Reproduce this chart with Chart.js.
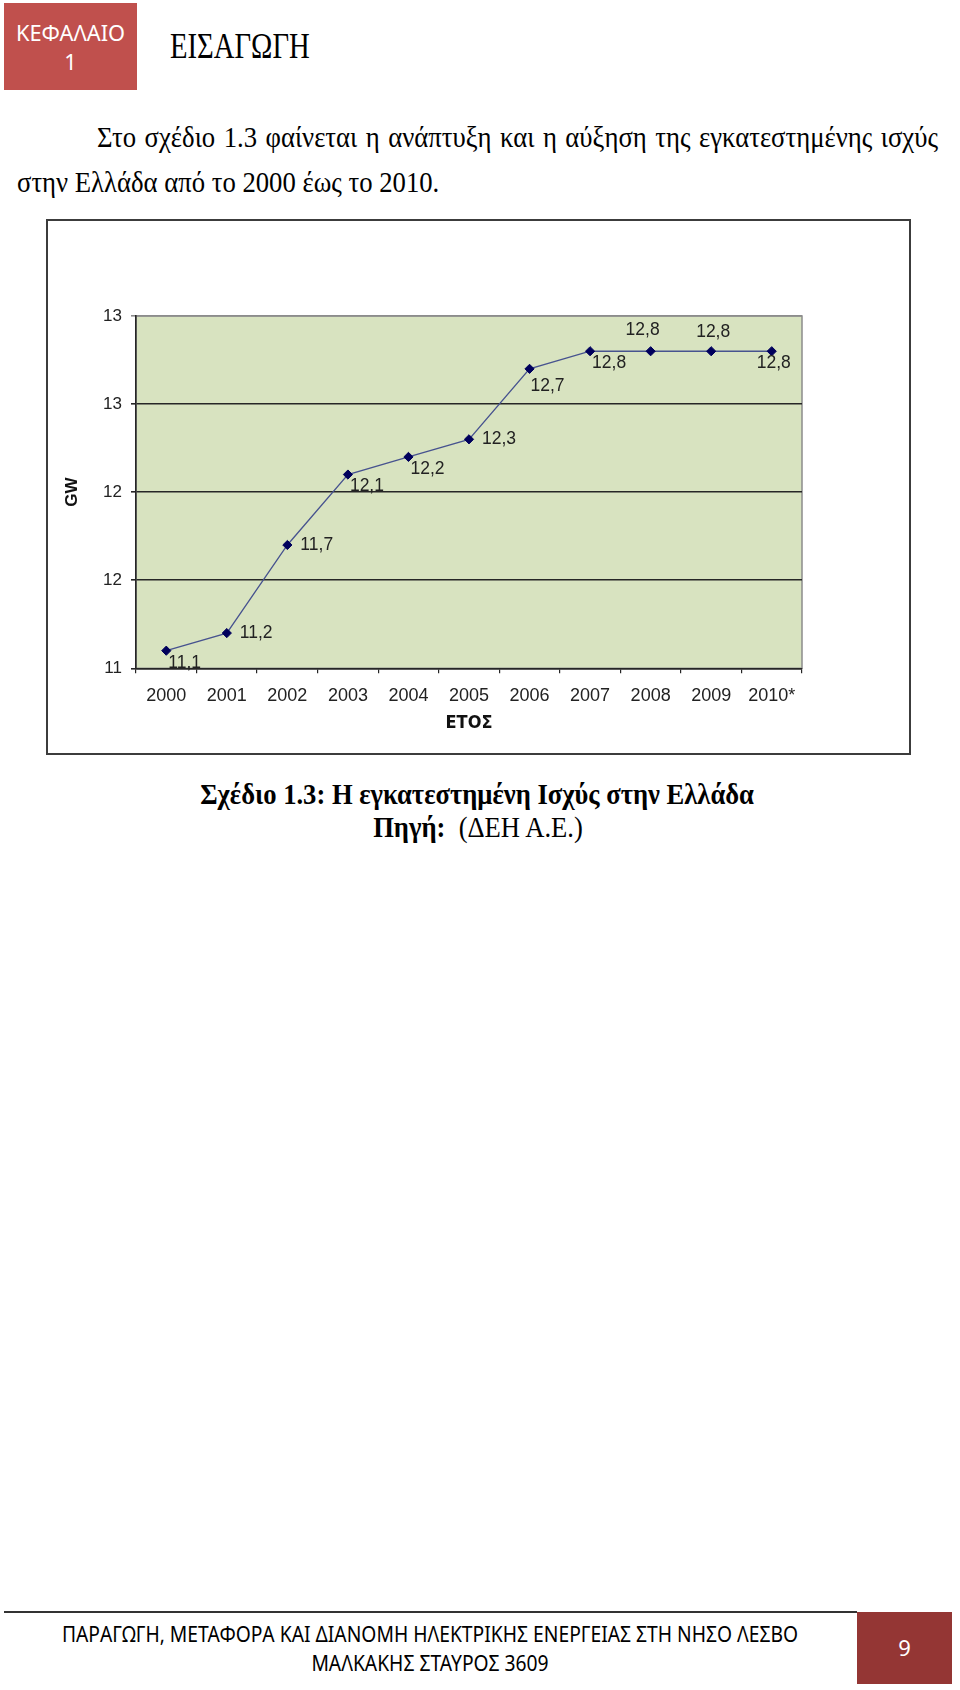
<!DOCTYPE html>
<html lang="el">
<head>
<meta charset="utf-8">
<title>Σχέδιο 1.3: Η εγκατεστημένη Ισχύς στην Ελλάδα</title>
<script src="https://cdn.jsdelivr.net/npm/chart.js@4.4.1/dist/chart.umd.min.js"></script>
<style>
  html, body { margin: 0; padding: 0; background: #fff; }
  #page { position: relative; width: 960px; height: 1690px; overflow: hidden; }
  .txt { position: absolute; white-space: nowrap; line-height: 1; transform-origin: 0 50%; color: #000; }
  .serif { font-family: "Liberation Serif", "Times New Roman", serif; }
  .sans { font-family: "Noto Sans", "Open Sans", sans-serif; }
  .box { position: absolute; }
  #chartBox { position: absolute; left: 46px; top: 219px; width: 861px; height: 532px; border: 2px solid #3c3c3c; }
</style>
</head>
<body>
<div id="page">
  <div class="box" style="left:4px; top:3px; width:133px; height:87px; background:#c0504d;"></div>
  <div class="txt sans" style="left:4px; width:133px; text-align:center; top:21.5px; font-size:21.8px; color:#fff; transform:scaleY(1.03);">ΚΕΦΑΛΑΙΟ</div>
  <div class="txt sans" style="left:4px; width:133px; text-align:center; top:51px; font-size:21.8px; color:#fff; transform:scaleY(1.03);">1</div>
  <div class="txt serif" style="left:170px; top:32.4px; font-size:28.7px; transform:scaleY(1.23);">ΕΙΣΑΓΩΓΗ</div>

  <div class="txt serif" style="left:97px; width:841px; top:124px; font-size:26.7px; text-align:justify; text-align-last:justify; transform:scaleY(1.11);">Στο σχέδιο 1.3 φαίνεται η ανάπτυξη και η αύξηση της εγκατεστημένης ισχύς</div>
  <div class="txt serif" style="left:17px; top:169px; font-size:26.7px; transform:scaleY(1.11);">στην Ελλάδα από το 2000 έως το 2010.</div>

  <div id="chartBox"><canvas id="capacityChart"></canvas></div>

  <div class="txt serif" style="left:0; width:954px; text-align:center; top:780.5px; font-size:26.6px; font-weight:bold; transform:scaleY(1.1);">Σχέδιο 1.3: Η εγκατεστημένη Ισχύς στην Ελλάδα</div>
  <div class="txt serif" style="left:0; width:956px; text-align:center; top:814px; font-size:26.6px; transform:scaleY(1.1);"><b>Πηγή:</b>&nbsp; (ΔΕΗ Α.Ε.)</div>

  <div class="box" style="left:4px; top:1611px; width:853px; height:1.5px; background:#333;"></div>
  <div class="txt sans" style="left:4px; width:852px; text-align:center; top:1624px; font-size:19.3px; transform:scaleY(1.12);">ΠΑΡΑΓΩΓΗ, ΜΕΤΑΦΟΡΑ ΚΑΙ ΔΙΑΝΟΜΗ ΗΛΕΚΤΡΙΚΗΣ ΕΝΕΡΓΕΙΑΣ ΣΤΗ ΝΗΣΟ ΛΕΣΒΟ</div>
  <div class="txt sans" style="left:4px; width:852px; text-align:center; top:1652.5px; font-size:19.3px; transform:scaleY(1.12);">ΜΑΛΚΑΚΗΣ ΣΤΑΥΡΟΣ 3609</div>
  <div class="box" style="left:857px; top:1612px; width:95px; height:72px; background:#943634;"></div>
  <div class="txt sans" style="left:857px; width:95px; text-align:center; top:1636px; font-size:22px; color:#fff;">9</div>
</div>

<script>
// installed capacity in Greece, GW (source: ΔΕΗ Α.Ε.)
const years = ['2000', '2001', '2002', '2003', '2004', '2005', '2006', '2007', '2008', '2009', '2010*'];
const capacityGW = [11.1, 11.2, 11.7, 12.1, 12.2, 12.3, 12.7, 12.8, 12.8, 12.8, 12.8];

// y axis: Excel shows half steps rounded to whole numbers
const yTickValues = [11, 11.5, 12, 12.5, 13];
const yTickLabels = ['11', '12', '12', '13', '13'];

// where each value label sits next to its point
const labelSides = ['belowRight', 'right', 'right', 'belowRight', 'belowRight', 'right',
                    'lowRight', 'belowRight', 'aboveLeft', 'above', 'below'];

const sansFont = '"Liberation Sans", Arial, sans-serif';
const darkLine = '#262626';
const plotEdge = '#8c8c8c';

const plotBackground = {
  id: 'plotBackground',
  beforeDraw(chart) {
    const { ctx, chartArea: a } = chart;
    ctx.save();
    ctx.fillStyle = '#d8e3c0';
    ctx.fillRect(a.left, a.top, a.width, a.height);
    ctx.strokeStyle = plotEdge;
    ctx.lineWidth = 1.5;
    ctx.strokeRect(a.left, a.top, a.width, a.height);
    ctx.restore();
  }
};

const pointLabels = {
  id: 'pointLabels',
  afterDatasetsDraw(chart) {
    const { ctx } = chart;
    const points = chart.getDatasetMeta(0).data;
    ctx.save();
    ctx.font = '17.5px ' + sansFont;
    ctx.fillStyle = '#222';
    ctx.textBaseline = 'middle';
    points.forEach((pt, i) => {
      const text = capacityGW[i].toFixed(1).replace('.', ',');
      let dx = 13, dy = 0, align = 'left';
      switch (labelSides[i]) {
        case 'belowRight': dx = 2; dy = 12; break;
        case 'lowRight': dx = 1; dy = 17; break;
        case 'aboveLeft': dx = -8; dy = -21; align = 'center'; break;
        case 'above': dx = 2; dy = -19; align = 'center'; break;
        case 'below': dx = 2; dy = 12; align = 'center'; break;
      }
      ctx.textAlign = align;
      ctx.fillText(text, pt.x + dx, pt.y + dy);
    });
    ctx.restore();
  }
};

function drawChart() {
  const ctx = document.getElementById('capacityChart').getContext('2d');
  new Chart(ctx, {
    type: 'line',
    data: {
      labels: years,
      datasets: [{
        label: 'GW',
        data: capacityGW,
        borderColor: '#47538f',
        borderWidth: 1.3,
        tension: 0,
        pointStyle: 'rectRot',
        pointRadius: 4.6,
        pointBorderWidth: 1,
        pointBackgroundColor: '#00005c',
        pointBorderColor: '#00005c'
      }]
    },
    options: {
      responsive: true,
      maintainAspectRatio: false,
      animation: false,
      layout: { padding: { top: 95, right: 107, bottom: 10, left: 12 } },
      plugins: {
        legend: { display: false },
        tooltip: { enabled: false }
      },
      scales: {
        x: {
          offset: true,
          afterFit: scale => { scale.height = 74.7; },
          grid: { offset: true, drawOnChartArea: false, tickLength: 5, color: darkLine, lineWidth: 1.2 },
          border: { color: darkLine, width: 1.6 },
          ticks: { font: { family: sansFont, size: 18 }, color: '#222', padding: 11.6, maxRotation: 0, autoSkip: false },
          title: {
            display: true,
            text: 'ΕΤΟΣ',
            color: '#111',
            font: { family: '"Liberation Sans Narrow", "DejaVu Sans Condensed", Arial, sans-serif', size: 18, weight: 'bold' },
            padding: { top: 0, bottom: 8.9 }
          }
        },
        y: {
          min: 11,
          max: 13,
          afterBuildTicks: scale => { scale.ticks = yTickValues.map(v => ({ value: v })); },
          afterFit: scale => { scale.width = 76; },
          grid: {
            color: c => (c.tick && c.tick.value === 13 ? plotEdge : darkLine),
            lineWidth: 1.6,
            tickLength: 5
          },
          border: { color: darkLine, width: 1.6 },
          ticks: {
            font: { family: sansFont, size: 17 },
            color: '#222',
            padding: 9,
            callback: (value, index) => yTickLabels[index]
          },
          title: {
            display: true,
            text: 'GW',
            color: '#111',
            font: { family: sansFont, size: 17, weight: 'bold' },
            padding: { top: 2.6, bottom: 0 }
          }
        }
      }
    },
    plugins: [plotBackground, pointLabels]
  });
}

document.addEventListener('DOMContentLoaded', drawChart);
</script>
</body>
</html>
